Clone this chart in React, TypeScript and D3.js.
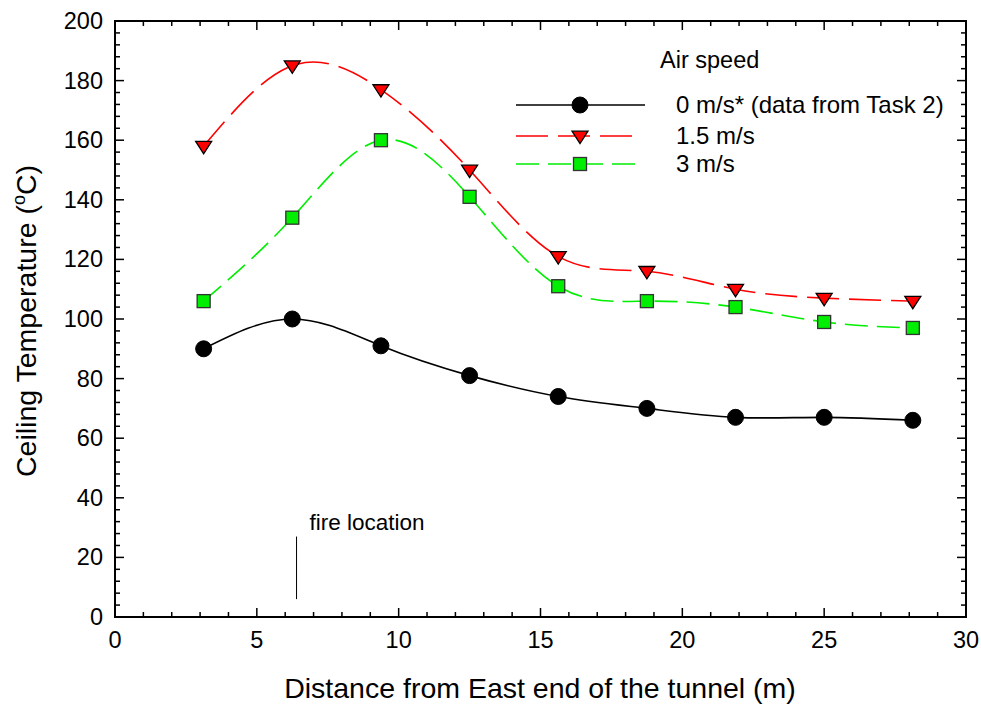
import React, { useEffect, useRef } from 'react';
import * as d3 from 'd3';

const distances = [3.125, 6.25, 9.375, 12.5, 15.625, 18.75, 21.875, 25, 28.125];
const temp0 = [90, 100, 91, 81, 74, 70, 67, 67, 66];
const temp15 = [158, 185, 177, 150, 121, 116, 110, 107, 106];
const temp3 = [106, 134, 160, 141, 111, 106, 104, 99, 97];
const seriesLabels = ['0 m/s* (data from Task 2)', '1.5 m/s', '3 m/s'];
const xTicks = [0, 5, 10, 15, 20, 25, 30];
const yTicks = [0, 20, 40, 60, 80, 100, 120, 140, 160, 180, 200];
const fireX = 6.4;
const fireRange = [6, 27];

const App = () => {
    const svgRef = useRef<SVGSVGElement>(null);

    useEffect(() => {
        const svg = d3.select(svgRef.current);
        svg.selectAll('*').remove();

        const width = 981, height = 706;
        const left = 115, right = 966, top = 21, bottom = 617;
        const font = 'Liberation Sans, Arial, sans-serif';

        const x = d3.scaleLinear().domain([0, 30]).range([left, right]);
        const y = d3.scaleLinear().domain([0, 200]).range([bottom, top]);

        svg.attr('width', width).attr('height', height);
        const g = svg.append('g');

        // frame
        g.append('rect')
            .attr('x', left).attr('y', top)
            .attr('width', right - left).attr('height', bottom - top)
            .attr('fill', 'none').attr('stroke', '#000').attr('stroke-width', 2);

        // inward ticks on all four sides
        const xMinor = d3.range(0, 31, 1);
        const yMinor = d3.range(0, 201, 4);
        xMinor.forEach((v) => {
            const len = v % 5 === 0 ? 9 : 5;
            g.append('line').attr('x1', x(v)).attr('x2', x(v)).attr('y1', bottom).attr('y2', bottom - len)
                .attr('stroke', '#000').attr('stroke-width', 1.5);
            g.append('line').attr('x1', x(v)).attr('x2', x(v)).attr('y1', top).attr('y2', top + len)
                .attr('stroke', '#000').attr('stroke-width', 1.5);
        });
        yMinor.forEach((v) => {
            const len = v % 20 === 0 ? 9 : 5;
            g.append('line').attr('x1', left).attr('x2', left + len).attr('y1', y(v)).attr('y2', y(v))
                .attr('stroke', '#000').attr('stroke-width', 1.5);
            g.append('line').attr('x1', right).attr('x2', right - len).attr('y1', y(v)).attr('y2', y(v))
                .attr('stroke', '#000').attr('stroke-width', 1.5);
        });

        // tick labels
        g.selectAll('.xlab').data(xTicks).enter().append('text')
            .attr('x', (d) => x(d)).attr('y', bottom + 31)
            .attr('text-anchor', 'middle').attr('font-family', font).attr('font-size', 23.5)
            .text((d) => d);
        g.selectAll('.ylab').data(yTicks).enter().append('text')
            .attr('x', left - 12).attr('y', (d) => y(d) + 8)
            .attr('text-anchor', 'end').attr('font-family', font).attr('font-size', 23.5)
            .text((d) => d);

        // axis titles
        g.append('text')
            .attr('x', 540).attr('y', 698)
            .attr('text-anchor', 'middle').attr('font-family', font).attr('font-size', 28.5)
            .text('Distance from East end of the tunnel (m)');
        const yt = g.append('text')
            .attr('transform', `translate(36, 321) rotate(-90)`)
            .attr('text-anchor', 'middle').attr('font-family', font).attr('font-size', 28.5);
        yt.append('tspan').text('Ceiling Temperature (');
        yt.append('tspan').attr('dy', -11).attr('font-size', 18).text('o');
        yt.append('tspan').attr('dy', 11).text('C)');

        // fire location
        g.append('line')
            .attr('x1', x(fireX)).attr('x2', x(fireX))
            .attr('y1', y(fireRange[0])).attr('y2', y(fireRange[1]))
            .attr('stroke', '#000').attr('stroke-width', 1);
        g.append('text')
            .attr('x', x(fireX) + 13).attr('y', 530)
            .attr('font-family', font).attr('font-size', 22.5)
            .text('fire location');

        const series = [
            { values: temp0, color: '#000', dash: null, marker: 'circle', fill: '#000' },
            { values: temp15, color: '#ff0000', dash: '32,10', marker: 'triangle', fill: '#ff0000' },
            { values: temp3, color: '#00ee00', dash: '23,9', marker: 'square', fill: '#00ee00' },
        ];

        const line = d3.line<[number, number]>()
            .curve(d3.curveNatural)
            .x((d) => x(d[0]))
            .y((d) => y(d[1]));

        const drawMarker = (sel: any, type: string, fill: string, cx: number, cy: number) => {
            if (type === 'circle') {
                sel.append('circle').attr('cx', cx).attr('cy', cy).attr('r', 8)
                    .attr('fill', fill).attr('stroke', '#000').attr('stroke-width', 1);
            } else if (type === 'triangle') {
                const s = 8;
                sel.append('path')
                    .attr('d', `M${cx - s},${cy - s * 0.6}L${cx + s},${cy - s * 0.6}L${cx},${cy + s * 0.95}Z`)
                    .attr('fill', fill).attr('stroke', '#000').attr('stroke-width', 1.3);
            } else {
                sel.append('rect').attr('x', cx - 6.5).attr('y', cy - 6.5).attr('width', 13).attr('height', 13)
                    .attr('fill', fill).attr('stroke', '#333').attr('stroke-width', 1.3);
            }
        };

        series.forEach((s) => {
            const pts: [number, number][] = distances.map((d, i) => [d, s.values[i]]);
            g.append('path')
                .attr('d', line(pts))
                .attr('fill', 'none')
                .attr('stroke', s.color)
                .attr('stroke-width', 1.6)
                .attr('stroke-dasharray', s.dash);
            pts.forEach((p) => drawMarker(g, s.marker, s.fill, x(p[0]), y(p[1])));
        });

        // legend
        g.append('text').attr('x', 660).attr('y', 68)
            .attr('font-family', font).attr('font-size', 23.5).text('Air speed');
        const rowsY = [105, 136, 164];
        const rowsEnd = [645, 633, 637];
        series.forEach((s, i) => {
            g.append('line').attr('x1', 516).attr('x2', rowsEnd[i])
                .attr('y1', rowsY[i]).attr('y2', rowsY[i])
                .attr('stroke', s.color).attr('stroke-width', 1.6)
                .attr('stroke-dasharray', s.dash);
            drawMarker(g, s.marker, s.fill, 580, rowsY[i]);
            g.append('text').attr('x', 676).attr('y', rowsY[i] + 8)
                .attr('font-family', font).attr('font-size', 24)
                .text(seriesLabels[i]);
        });
    }, []);

    return <svg ref={svgRef} style={{ position: 'absolute', left: 0, top: 0 }}></svg>;
};

export default App;
